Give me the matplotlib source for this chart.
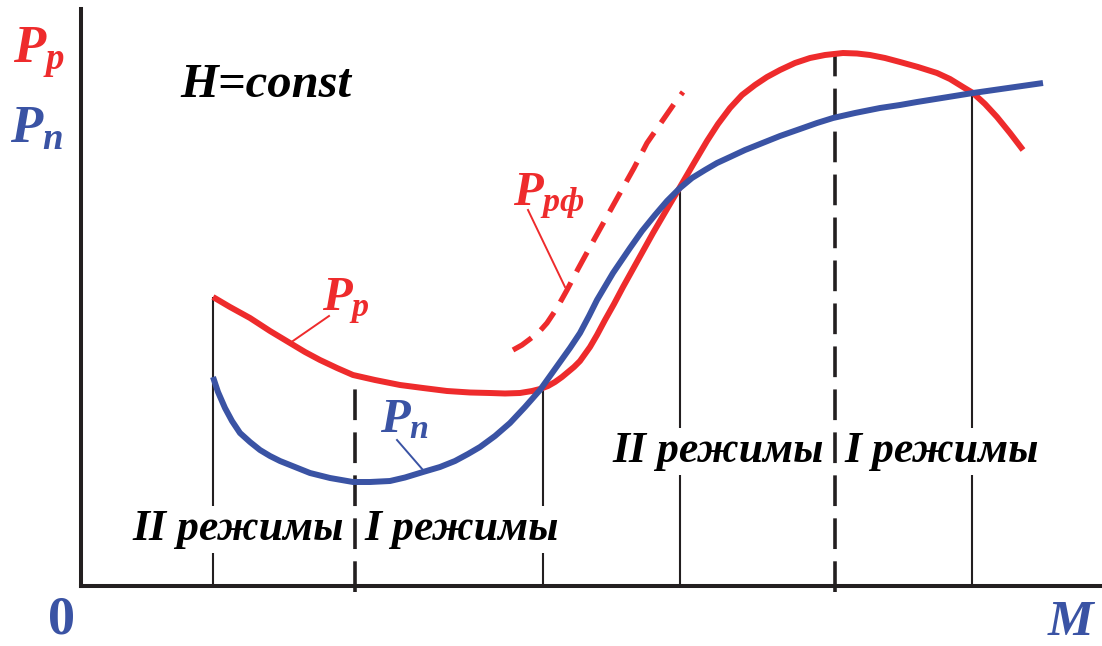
import numpy as np
import matplotlib
matplotlib.use("Agg")
import matplotlib.pyplot as plt

plt.rcParams['mathtext.fontset'] = 'custom'
plt.rcParams['mathtext.it'] = 'Liberation Serif:italic:bold'
plt.rcParams['mathtext.rm'] = 'Liberation Serif:bold'
plt.rcParams['mathtext.bf'] = 'Liberation Serif:bold'

RED = '#EE2B2C'
BLUE = '#3A53A4'
DARK = '#231F20'

# располагаемая мощность P_р
m_red = [13.2, 14.9, 16.9, 18.9, 20.9, 22.4, 23.9, 25.6, 27.2, 29.4, 31.9, 34.2, 36.6,
         38.9, 40.9, 42.4, 43.9, 45.1, 45.9, 46.7, 47.4, 48.1, 48.7, 49.3, 49.9, 50.4,
         50.9, 51.6, 52.4, 53.3, 54.2, 55.7, 57.2, 58.6, 59.9, 61.3, 62.6, 63.7, 64.9,
         66.1, 67.4, 68.6, 69.9, 71.4, 72.9, 74.4, 76.2, 77.6, 78.9, 80.4, 81.9, 83.7,
         85.6, 86.9, 88.2, 89.2, 90.4, 91.6, 92.9, 94.2]
p_red = [28.9, 27.9, 26.8, 25.5, 24.3, 23.4, 22.6, 21.8, 21.1, 20.6, 20.1, 19.8, 19.5,
         19.35, 19.3, 19.25, 19.3, 19.5, 19.7, 20.0, 20.4, 20.9, 21.4, 21.9, 22.5, 23.2,
         23.9, 25.1, 26.6, 28.2, 29.9, 32.6, 35.3, 37.7, 39.9, 42.3, 44.5, 46.2, 47.8,
         49.1, 50.1, 50.9, 51.6, 52.3, 52.8, 53.1, 53.3, 53.25, 53.1, 52.8, 52.4, 51.9,
         51.3, 50.7, 49.9, 49.3, 48.2, 46.9, 45.3, 43.6]

# потребная мощность P_п
m_blue = [13.2, 13.7, 14.4, 15.1, 15.9, 16.9, 17.9, 18.9, 19.9, 21.4, 22.9, 24.9, 27.2,
          28.9, 30.9, 32.4, 34.2, 35.9, 37.4, 38.7, 39.9, 41.4, 42.9, 44.4, 45.9, 46.9,
          47.9, 48.9, 49.9, 50.8, 51.6, 53.2, 54.9, 56.1, 57.4, 58.6, 59.9, 61.1, 62.4,
          63.6, 64.9, 66.4, 67.9, 69.9, 71.9, 73.6, 75.2, 77.4, 79.9, 81.9, 83.6, 86.4,
          89.2, 92.7, 96.2]
p_blue = [20.9, 19.4, 17.8, 16.5, 15.3, 14.4, 13.6, 13.0, 12.5, 11.9, 11.3, 10.8, 10.4,
          10.4, 10.5, 10.85, 11.4, 11.9, 12.5, 13.2, 13.9, 15.0, 16.3, 17.9, 19.6, 21.0,
          22.4, 23.8, 25.3, 27.0, 28.6, 31.3, 33.8, 35.5, 37.1, 38.5, 39.8, 40.8, 41.6,
          42.3, 42.9, 43.6, 44.2, 45.0, 45.7, 46.3, 46.8, 47.3, 47.8, 48.1, 48.4, 48.85,
          49.3, 49.8, 50.3]

# P_рф (штриховая)
m_rf = [43.2, 44.1, 44.9, 45.8, 46.6, 47.6, 48.6, 49.7, 50.9, 52.4, 53.9, 55.3, 56.6,
        57.5, 58.4, 59.3, 60.2]
p_rf = [23.6, 24.1, 24.7, 25.4, 26.3, 27.8, 29.6, 31.7, 33.9, 36.6, 39.3, 41.8, 44.3,
        45.6, 46.9, 48.2, 49.4]

# границы режимов
m_solid = [13.2, 46.2, 59.9, 89.1]
m_dashed = [27.4, 75.4]

regime_labels = ['II режимы', 'I режимы', 'II режимы', 'I режимы']
regime_x = [15.75, 38.1, 63.75, 86.1]
regime_y = [4.6, 4.6, 12.4, 12.4]

fig = plt.figure(figsize=(11.02, 6.46), dpi=100)
ax = fig.add_axes([81 / 1102, 60 / 646, 1019 / 1102, 577 / 646])
ax.set_xlim(0, 101.9)
ax.set_ylim(0, 57.7)
ax.set_xticks([])
ax.set_yticks([])
for s in ['top', 'right']:
    ax.spines[s].set_visible(False)
for s in ['left', 'bottom']:
    ax.spines[s].set_linewidth(2.9)
    ax.spines[s].set_color(DARK)
    ax.spines[s].set_capstyle('projecting')

# vertical regime lines
for m in m_solid:
    top = np.interp(m, m_red, p_red)
    ax.plot([m, m], [0, top], color=DARK, lw=1.5, zorder=1, solid_capstyle='butt')
for m in m_dashed:
    top = np.interp(m, m_red, p_red)
    ax.plot([m, m], [-0.6, top], color=DARK, lw=2.6, zorder=1,
            linestyle=(0, (8.5, 3.4)), dash_capstyle='butt', clip_on=False)

# curves
ax.plot(m_red, p_red, color=RED, lw=4.3, zorder=4, solid_capstyle='butt', solid_joinstyle='round')
ax.plot(m_blue, p_blue, color=BLUE, lw=4.3, zorder=5, solid_capstyle='butt', solid_joinstyle='round')
ax.plot(m_rf, p_rf, color=RED, lw=3.8, zorder=4, linestyle=(0, (4.2, 2.3)),
        dash_capstyle='butt')

# leader lines
ax.plot([24.8, 20.9], [27.0, 24.3], color=RED, lw=1.4, zorder=4)
ax.plot([31.6, 34.2], [14.6, 11.6], color=BLUE, lw=1.4, zorder=4)
ax.plot([44.7, 48.4], [37.6, 29.9], color=RED, lw=1.4, zorder=4)

# curve labels
ax.text(24.1, 27.6, r'$P_р$', color=RED, fontsize=35, ha='left', va='baseline')
ax.text(29.9, 15.4, r'$P_п$', color=BLUE, fontsize=35, ha='left', va='baseline')
ax.text(43.2, 38.1, r'$P_{рф}$', color=RED, fontsize=35, ha='left', va='baseline')

# axis labels
ax.text(-6.8, 52.3, r'$P_р$', color=RED, fontsize=38, ha='left', va='baseline')
ax.text(-7.1, 44.3, r'$P_п$', color=BLUE, fontsize=38, ha='left', va='baseline')
ax.text(-1.9, -4.7, '0', color=BLUE, fontsize=39, ha='center', va='baseline',
        family='Liberation Serif', weight='bold')
ax.text(98.9, -4.9, 'M', color=BLUE, fontsize=37, ha='center', va='baseline',
        family='Liberation Serif', weight='bold', style='italic')

ax.text(9.9, 48.9, 'H=const', color='black', fontsize=35, ha='left', va='baseline',
        family='Liberation Serif', weight='bold', style='italic')

for lab, x, y in zip(regime_labels, regime_x, regime_y):
    ax.text(x, y, lab, color='black', fontsize=31.5, ha='center', va='baseline',
            family='Liberation Serif', weight='bold', style='italic', zorder=3,
            bbox=dict(boxstyle='square,pad=0.08', fc='white', ec='none'))

fig.savefig('out.png', dpi=100)
